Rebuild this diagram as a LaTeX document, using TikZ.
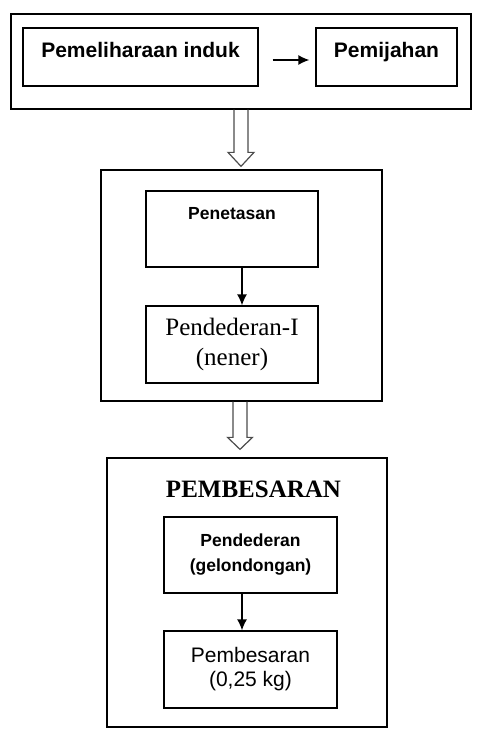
\documentclass[tikz,border=0pt]{standalone}
\usepackage{fontspec}
\setmainfont{Liberation Serif}
\setsansfont{Liberation Sans}
\usetikzlibrary{calc,arrows.meta}
\begin{document}
\begin{tikzpicture}[x=1pt,y=1pt,
    box/.style={draw,line width=1.3pt,inner sep=0pt,align=center},
    hollow/.style={draw=black!70,line width=1.2pt},
    flow/.style={-{Latex[length=11pt,width=10pt]},line width=1.3pt}]
    \useasboundingbox (0,0) rectangle (480,-739);
    \node[box,minimum width=460pt,minimum height=95pt] (top) at (241,-61.5) {};
    \node[box,minimum width=235pt,text height=29.5pt,text depth=28.5pt,font=\sffamily\bfseries\fontsize{21}{25}\selectfont] (brood) at (140.5,-57) {Pemeliharaan induk};
    \node[box,minimum width=141pt,text height=29.5pt,text depth=28.5pt,font=\sffamily\bfseries\fontsize{21}{25}\selectfont] (spawn) at (386.5,-57) {Pemijahan};
      \draw[flow] ($(brood.east)+(14,-3)$) -- ($(spawn.west)+(-6,-3)$);
    \node[box,minimum width=281pt,minimum height=231pt] (mid) at (241.5,-285.5) {};
    \node[box,minimum width=172pt,text height=28.1pt,text depth=47.9pt,font=\sffamily\bfseries\fontsize{17.5}{20}\selectfont] (hatch) at (232,-229) {Penetasan};
    \node[box,minimum width=172pt,minimum height=77pt,font=\fontsize{25}{30}\selectfont] (nursery) at (232,-344.5) {Pendederan-I\\(nener)};
      \draw[flow] ($(hatch.south)+(10,0)$) -- ($(nursery.north)+(10,0)$);
    \draw[hollow] ($(top.south)+(-7,0)$) |- ($(top.south |- mid.north)+(-13,17)$) -- ($(top.south |- mid.north)+(0,3)$)
      -- ($(top.south |- mid.north)+(13,17)$) -| ($(top.south)+(7,0)$);
    \node[box,minimum width=280pt,minimum height=269pt] (bottom) at (247,-592.5) {};
    \node[font=\bfseries\fontsize{25}{30}\selectfont,inner sep=0pt] (title) at (253.5,-489) {PEMBESARAN};
    \node[box,minimum width=173pt,minimum height=76pt,font=\sffamily\bfseries\fontsize{17.5}{25}\selectfont] (fry) at (250.5,-555) {Pendederan\\(gelondongan)};
    \node[box,minimum width=173pt,minimum height=77pt,font=\sffamily\fontsize{21}{24}\selectfont] (grow) at (250.5,-669.5) {Pembesaran\\(0,25 kg)};
      \draw[flow] ($(fry.south)+(-8.5,0)$) -- ($(grow.north)+(-8.5,0)$);
    \draw[hollow] ($(mid.south)+(-8.5,0)$) |- ($(mid.south |- bottom.north)+(-14,20)$) -- ($(mid.south |- bottom.north)+(-1.5,8)$)
      -- ($(mid.south |- bottom.north)+(11,20)$) -| ($(mid.south)+(5.5,0)$);
\end{tikzpicture}
\end{document}
